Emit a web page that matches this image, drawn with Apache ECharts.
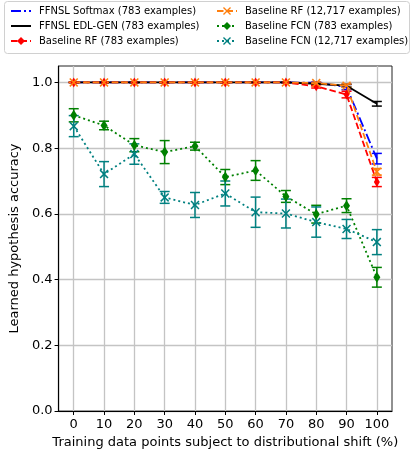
<!DOCTYPE html>
<html>
<head>
<meta charset="utf-8">
<script src="https://cdn.jsdelivr.net/npm/echarts@6/dist/echarts.min.js"></script>
<style>
  html, body { margin: 0; padding: 0; background: #fff; }
  #chart { width: 411px; height: 457px; }
</style>
</head>
<body>
<div id="chart"></div>
<script>
// Share of training points subject to distributional shift (%)
const shiftPct = [0, 10, 20, 30, 40, 50, 60, 70, 80, 90, 100];
const xTickValues = [0, 10, 20, 30, 40, 50, 60, 70, 80, 90, 100];
const yTickValues = [0, 0.2, 0.4, 0.6, 0.8, 1.0];

// Learned hypothesis accuracy (mean) and error half-widths
const softmaxAcc = [1, 1, 1, 1, 1, 1, 1, 1, 0.999, 0.986, 0.768];
const softmaxErr = [0, 0, 0, 0, 0, 0, 0, 0, 0.002, 0.008, 0.016];

const edlGenAcc = [1, 1, 1, 1, 1, 1, 1, 1, 0.996, 0.99, 0.935];
const edlGenErr = [0, 0, 0, 0, 0, 0, 0, 0, 0.002, 0.004, 0.007];

const rf783Acc = [1, 1, 1, 1, 1, 1, 1, 1, 0.988, 0.963, 0.697];
const rf783Err = [0, 0, 0, 0, 0, 0, 0, 0, 0.005, 0.01, 0.014];

const rf12kAcc = [1, 1, 1, 1, 1, 1, 1, 1, 0.998, 0.99, 0.728];
const rf12kErr = [0, 0, 0, 0, 0, 0, 0, 0, 0.003, 0.005, 0.01];

const fcn783Acc = [0.9, 0.869, 0.809, 0.788, 0.806, 0.712, 0.732, 0.653, 0.599, 0.625, 0.407];
const fcn783Err = [0.02, 0.013, 0.02, 0.035, 0.012, 0.023, 0.03, 0.018, 0.027, 0.021, 0.03];

const fcn12kAcc = [0.867, 0.721, 0.782, 0.65, 0.627, 0.662, 0.605, 0.601, 0.575, 0.554, 0.514];
const fcn12kErr = [0.032, 0.038, 0.031, 0.018, 0.038, 0.038, 0.046, 0.044, 0.046, 0.029, 0.038];

const FONT = 'DejaVu Sans';
const X_MARK = 'path://M0,1.2 L1.2,0 L5,3.8 L8.8,0 L10,1.2 L6.2,5 L10,8.8 L8.8,10 L5,6.2 L1.2,10 L0,8.8 L3.8,5 Z';

const runs = [
  { name: 'FFNSL Softmax (783 examples)', acc: softmaxAcc, err: softmaxErr, color: '#0000ff', dash: [10, 3, 2, 3], symbol: 'none', size: 0 },
  { name: 'FFNSL EDL-GEN (783 examples)', acc: edlGenAcc, err: edlGenErr, color: '#000000', dash: 'solid', symbol: 'none', size: 0 },
  { name: 'Baseline RF (783 examples)', acc: rf783Acc, err: rf783Err, color: '#ff0000', dash: [6.5, 3], symbol: 'diamond', size: [6, 10] },
  { name: 'Baseline RF (12,717 examples)', acc: rf12kAcc, err: rf12kErr, color: '#ff7f0e', dash: [6.5, 3], symbol: X_MARK, size: 9 },
  { name: 'Baseline FCN (783 examples)', acc: fcn783Acc, err: fcn783Err, color: '#008000', dash: [2, 3], symbol: 'diamond', size: [7, 11] },
  { name: 'Baseline FCN (12,717 examples)', acc: fcn12kAcc, err: fcn12kErr, color: '#008080', dash: [2, 3], symbol: X_MARK, size: 9 }
];

function errorBarItem(params, api) {
  const x = api.value(0), y = api.value(1), e = api.value(2);
  const hi = api.coord([x, y + e]);
  const lo = api.coord([x, y - e]);
  const cap = 5;
  const style = { stroke: api.visual('color'), lineWidth: 1.5 };
  return {
    type: 'group',
    children: [
      { type: 'line', shape: { x1: hi[0], y1: hi[1], x2: lo[0], y2: lo[1] }, style },
      { type: 'line', shape: { x1: hi[0] - cap, y1: hi[1], x2: hi[0] + cap, y2: hi[1] }, style },
      { type: 'line', shape: { x1: lo[0] - cap, y1: lo[1], x2: lo[0] + cap, y2: lo[1] }, style }
    ]
  };
}

const errorSeries = runs.map(r => ({
  type: 'custom',
  z: 1,
  silent: true,
  itemStyle: { color: r.color },
  renderItem: errorBarItem,
  data: shiftPct.map((x, i) => [x, r.acc[i], r.err[i]])
}));

const lineSeries = runs.map(r => ({
  type: 'line',
  name: r.name,
  z: 2,
  data: shiftPct.map((x, i) => [x, r.acc[i]]),
  symbol: r.symbol,
  symbolSize: r.size,
  showSymbol: r.symbol !== 'none',
  color: r.color,
  itemStyle: { color: r.color },
  lineStyle: { color: r.color, width: 1.8, type: r.dash },
  emphasis: { disabled: true },
  animation: false
}));

// Legend entries: lines without markers get a transparent marker swatch
const legendEntries = runs.map(r => r.symbol === 'none'
  ? { name: r.name, itemStyle: { color: 'rgba(0,0,0,0)', borderWidth: 0 } }
  : { name: r.name });

const legendText = { fontFamily: FONT, fontSize: 10, color: '#000', padding: [0, 0, 0, 3] };
const legendBase = { orient: 'vertical', top: 6, padding: 0, itemWidth: 20, itemHeight: 10,
  itemGap: 5, textStyle: legendText, selectedMode: false };

const chart = echarts.init(document.getElementById('chart'), null, { renderer: 'canvas' });
chart.setOption({
  animation: false,
  backgroundColor: '#fff',
  grid: { left: 56, right: 19, top: 66, bottom: 46, show: true, borderColor: '#222', borderWidth: 1, backgroundColor: 'transparent' },
  graphic: [{
    type: 'rect', left: 4, top: 1, z: 0,
    shape: { width: 405, height: 52, r: 3 },
    style: { fill: '#fff', stroke: '#d0d0d0', lineWidth: 1 }
  }],
  legend: [
    Object.assign({ data: legendEntries.slice(0, 3), left: 10 }, legendBase),
    Object.assign({ data: legendEntries.slice(3), left: 216 }, legendBase)
  ],
  xAxis: {
    type: 'value', min: -5, max: 105,
    name: 'Training data points subject to distributional shift (%)',
    nameLocation: 'middle', nameGap: 23,
    nameTextStyle: { fontFamily: FONT, fontSize: 13, color: '#000' },
    axisLine: { show: true, onZero: false, lineStyle: { color: '#000', width: 1.2 } },
    axisTick: { show: true, customValues: xTickValues, length: 4, lineStyle: { color: '#000' } },
    axisLabel: { customValues: xTickValues, fontFamily: FONT, fontSize: 13, color: '#000', margin: 7 },
    splitLine: { show: true, lineStyle: { color: '#c4c4c4', width: 1.3 } }
  },
  yAxis: {
    type: 'value', min: 0, max: 1.05,
    name: 'Learned hypothesis accuracy',
    nameLocation: 'middle', nameGap: 36,
    nameTextStyle: { fontFamily: FONT, fontSize: 13, color: '#000' },
    axisLine: { show: true, onZero: false, lineStyle: { color: '#000', width: 1.2 } },
    axisTick: { show: true, customValues: yTickValues, length: 4, lineStyle: { color: '#000' } },
    axisLabel: { customValues: yTickValues, fontFamily: FONT, fontSize: 13, color: '#000', margin: 6,
      formatter: v => v.toFixed(1) },
    splitLine: { show: true, lineStyle: { color: '#c4c4c4', width: 1.3 } }
  },
  series: [...errorSeries, ...lineSeries]
});
</script>
</body>
</html>
